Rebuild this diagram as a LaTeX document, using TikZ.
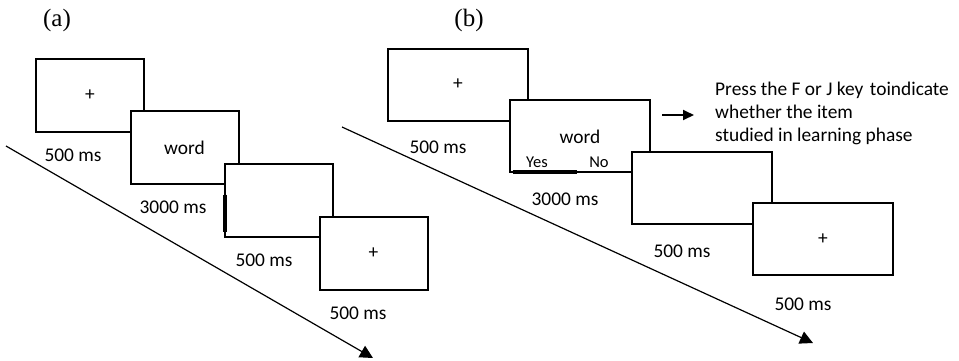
\documentclass[tikz,border=0pt]{standalone}
\usepackage{fontspec}
\newfontfamily\calfont{Carlito}
\newfontfamily\panelfont{Liberation Serif}
\usetikzlibrary{arrows.meta,calc}
\begin{document}
\begin{tikzpicture}[x=1pt,y=-1pt,
  frame/.style={draw,line width=2pt,fill=white,inner sep=0pt,outer sep=0pt,
                font=\calfont\fontsize{19.4}{23}\selectfont},
  fa/.style={frame,minimum width=108pt,minimum height=73pt},
  fb/.style={frame,minimum width=140pt,minimum height=72pt},
  lbl/.style={font=\calfont\fontsize{19.4}{23}\selectfont,inner sep=0pt,anchor=base},
  small/.style={font=\calfont\fontsize{16.5}{20}\selectfont,inner sep=0pt,anchor=base},
  panel/.style={font=\panelfont\fontsize{25}{28}\selectfont,inner sep=0pt},
  timeline/.style={line width=1.2pt,-{Triangle[length=13pt,width=13pt]}},
  pointer/.style={line width=1.8pt,-{Triangle[length=11pt,width=10pt]}},
]
\useasboundingbox (0,0) rectangle (959,360);

% panel labels
\node[panel] (pa) at (57,20) {(a)};
\node[panel] (pb) at (469,20) {(b)};

% ---------- panel (a) ----------
\node[fa] (A1) at (90,95) {+};
\node[fa] (A2) at (184.5,147.5) {word};
\node[fa] (A3) at (279,200) {};
\draw[line width=4pt] ($(A3.north west)+(0,31)$) -- ($(A3.north west)+(0,68)$);
\node[fa] (A4) at (373.5,253.5) {+};

\node[lbl] (la1) at (73,161) {500 ms};
\node[lbl] (la2) at (173,213) {3000 ms};
\node[lbl] (la3) at (264,266) {500 ms};
\node[lbl] (la4) at (358,319) {500 ms};

\coordinate (ta0) at (6,146);
\coordinate (ta1) at (373,358);
\draw[timeline] (ta0) -- (ta1);

% ---------- panel (b) ----------
\node[fb] (B1) at (458,84.5) {+};
\node[fb] (B2) at (579.5,136) {};
\node[lbl] (bw) at (580,143) {word};
\node[small] (byes) at (537,167) {Yes};
\node[small] (bno) at (599,167) {No};
\draw[line width=3.5pt] ($(B2.south west)+(3,0)$) -- ($(B2.south west)+(67,0)$);
\node[fb] (B3) at (702,187.5) {};
\node[fb] (B4) at (823,239) {+};

\node[lbl] (lb1) at (438,153) {500 ms};
\node[lbl] (lb2) at (565,205) {3000 ms};
\node[lbl] (lb3) at (682,257) {500 ms};
\node[lbl] (lb4) at (803,310) {500 ms};

\coordinate (tb0) at (342,127);
\coordinate (tb1) at (813,343);
\draw[timeline] (tb0) -- (tb1);

\coordinate (s0) at (662,115);
\coordinate (s1) at (694,115);
\draw[pointer] (s0) -- (s1);

\node[lbl,anchor=base west] (t1) at (715,95) {Press the F or J key\hspace{6.5pt}toindicate};
\node[lbl,anchor=base west] (t2) at (715,118) {whether the item};
\node[lbl,anchor=base west] (t3) at (715,141) {studied in learning phase};
\end{tikzpicture}
\end{document}
